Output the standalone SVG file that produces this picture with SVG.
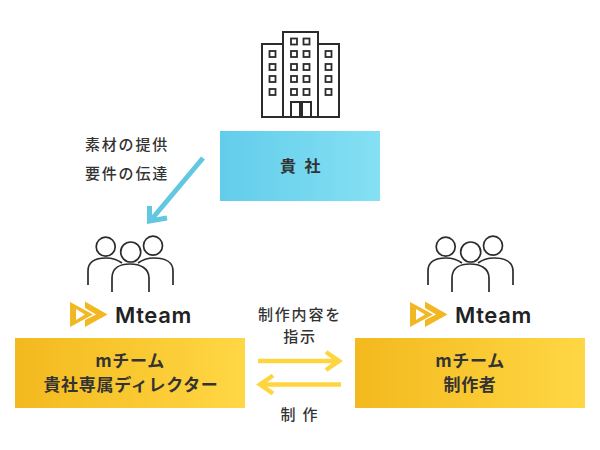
<svg xmlns="http://www.w3.org/2000/svg" width="600" height="450" viewBox="0 0 600 450">
<style>
text{font-family:"Noto Sans CJK JP","Noto Sans",sans-serif;fill:#333;text-anchor:middle}
.s{font-size:15px;font-weight:500;letter-spacing:1.8px}
.b{font-size:17px;font-weight:700;letter-spacing:.7px}
.ln{fill:none;stroke:#2b2b2b;stroke-width:2;stroke-linejoin:miter}
.p{fill:none;stroke:#2b2b2b;stroke-width:1.7}
.m{font-family:"Inter","Liberation Sans",sans-serif;font-size:22px;font-weight:600;fill:#222;text-anchor:start;letter-spacing:.6px}
</style>
<defs>
<linearGradient id="bg" x1="0" y1="0" x2="1" y2="0"><stop offset="0" stop-color="#62cdeb"/><stop offset="1" stop-color="#85e0f3"/></linearGradient>
<linearGradient id="yg" x1="0" y1="0" x2="1" y2="0"><stop offset="0" stop-color="#f3b91e"/><stop offset="1" stop-color="#ffd744"/></linearGradient>
<g id="people">
<circle cx="105.7" cy="246.7" r="9.5" class="p"/><circle cx="153" cy="245.7" r="9.5" class="p"/><circle cx="130.7" cy="252" r="10" class="p"/>
<path class="p" d="M88 285V271C88 262 95 258 106 258C113 258 118 260 122 263"/>
<path class="p" d="M138 263C142 260 147 258 154 258C165 258 173 262 173 271V285"/>
<path class="p" d="M112 292V278C112 268 120 264 130 264C140 264 149 268 149 278V292"/>
</g>
<g id="mark">
<path fill="#f1b823" fill-rule="evenodd" d="M70 302L93 314.500L70 327ZM76 309V320L85 314.500Z"/>
<path fill="#f1b823" d="M85 301.500L107.500 314.500L85 327V320L96 314.500L85 308Z"/>
</g>
</defs>
<g id="building">
<rect class="ln" x="262" y="44" width="21" height="73"/><rect class="ln" x="318" y="44" width="21" height="73"/>
<rect class="ln" x="283" y="32" width="35" height="85"/>
<rect class="ln" x="291" y="102" width="9" height="15"/><rect class="ln" x="302" y="102" width="9" height="15"/>
<g fill="none" stroke="#2b2b2b" stroke-width="1.8">
<rect x="269.500" y="51" width="6" height="6"/><rect x="269.500" y="64" width="6" height="6"/><rect x="269.500" y="76" width="6" height="6"/><rect x="269.500" y="89" width="6" height="6"/>
<rect x="325.500" y="51" width="6" height="6"/><rect x="325.500" y="64" width="6" height="6"/><rect x="325.500" y="76" width="6" height="6"/><rect x="325.500" y="89" width="6" height="6"/>
<rect x="291" y="38.500" width="6" height="6"/><rect x="291" y="51" width="6" height="6"/><rect x="291" y="64" width="6" height="6"/><rect x="291" y="76" width="6" height="6"/><rect x="291" y="89" width="6" height="6"/>
<rect x="303.500" y="38.500" width="6" height="6"/><rect x="303.500" y="51" width="6" height="6"/><rect x="303.500" y="64" width="6" height="6"/><rect x="303.500" y="76" width="6" height="6"/><rect x="303.500" y="89" width="6" height="6"/>
</g>
</g>
<g id="client"><rect x="220" y="131" width="160" height="70" fill="url(#bg)"/><text class="b" x="301.500" y="172" style="font-size:16px;letter-spacing:2.500px">貴 社</text></g>
<g id="team-left">
<use href="#people"/><use href="#mark"/><text class="m" x="115" y="322.500">Mteam</text>
<rect x="15" y="338" width="230" height="70" fill="url(#yg)"/>
<text class="b" x="130" y="367">mチーム</text><text class="b" x="131" y="391">貴社専属ディレクター</text>
</g>
<g id="team-right">
<use href="#people" x="340"/><use href="#mark" x="340"/><text class="m" x="455" y="322.500">Mteam</text>
<rect x="355" y="338" width="230" height="70" fill="url(#yg)"/>
<text class="b" x="470" y="367">mチーム</text><text class="b" x="470" y="391">制作者</text>
</g>
<g id="connectors">
<path d="M203 158L151 220M149.500 206L149.500 221L167 218" fill="none" stroke="#62c8e2" stroke-width="5"/>
<path d="M258 361H339M326 352L339 361L326 370" fill="none" stroke="#ffd53f" stroke-width="4.500"/>
<path d="M341 384.500H260M273 375.500L260 384.500L273 393.500" fill="none" stroke="#ffd53f" stroke-width="4.500"/>
</g>
<g id="labels">
<text class="s" x="127" y="150">素材の提供</text><text class="s" x="127" y="179">要件の伝達</text>
<text class="s" x="300" y="320">制作内容を</text><text class="s" x="300" y="342">指示</text>
<text class="s" x="300" y="420">制 作</text>
</g>
</svg>
